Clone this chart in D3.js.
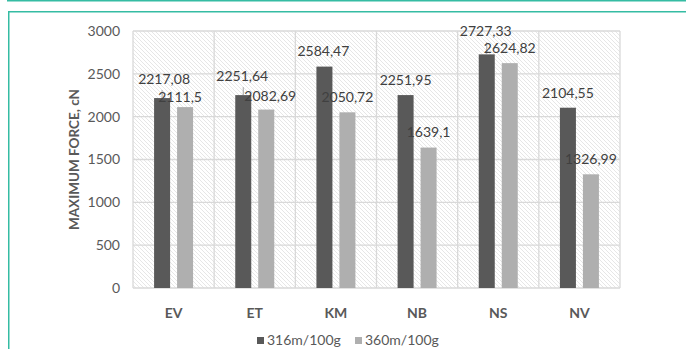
<!DOCTYPE html>
<html>
<head>
<meta charset="utf-8">
<script src="https://cdn.jsdelivr.net/npm/d3@7"></script>
<style>
  html, body { margin: 0; padding: 0; background: #ffffff; }
  svg { display: block; }
</style>
</head>
<body>
<svg id="chart" width="686" height="349"></svg>
<script>
// Fabric samples and measured maximum force for two yarn counts
const categories = ["EV", "ET", "KM", "NB", "NS", "NV"];
const seriesNames = ["316m/100g", "360m/100g"];
const force316 = [2217.08, 2251.64, 2584.47, 2251.95, 2727.33, 2104.55];
const force360 = [2111.5, 2082.69, 2050.72, 1639.1, 2624.82, 1326.99];
const yTicks = [0, 500, 1000, 1500, 2000, 2500, 3000];

const W = 686, H = 349;
const margin = { top: 31, right: 66, bottom: 61, left: 133 };
const colors = ["#595959", "#afafaf"];
const font = "Lato, 'Open Sans', sans-serif";

// Small per-label nudges that keep overlapping value labels apart
const labelShift = {
  "EV-0": [2, -4], "EV-1": [-5, 5],
  "ET-0": [-1, -4], "ET-1": [4, 1.5],
  "KM-0": [-1, 0],
  "NS-0": [-1, -8]
};
const leaderLabels = ["EV-0", "ET-0", "NS-0"];

const svg = d3.select("#chart");

// Outer frame lines
svg.append("line").attr("x1", 7).attr("x2", W).attr("y1", 0.75).attr("y2", 0.75)
  .attr("stroke", "#35bca3").attr("stroke-width", 1.5);
svg.append("path").attr("d", `M${W},11.75 H8.75 V${H}`)
  .attr("fill", "none").attr("stroke", "#35bca3").attr("stroke-width", 1.5);

// Diagonal hatch for the plot background
const defs = svg.append("defs");
const pat = defs.append("pattern").attr("id", "hatch")
  .attr("patternUnits", "userSpaceOnUse").attr("width", 4).attr("height", 4);
pat.append("rect").attr("width", 4).attr("height", 4).attr("fill", "#ffffff");
pat.append("path").attr("d", "M-1,-1 L5,5 M-1,3 L1,5 M3,-1 L5,1")
  .attr("stroke", "#e0e0e0").attr("stroke-width", 0.8);

const x0 = d3.scaleBand().domain(categories)
  .range([margin.left, W - margin.right]).padding(0);
const x1 = d3.scaleBand().domain(d3.range(seriesNames.length))
  .range([0, x0.bandwidth()]).paddingInner(0.304).paddingOuter(0.917);
const y = d3.scaleLinear().domain([0, 3000])
  .range([H - margin.bottom, margin.top]);

const plotW = W - margin.left - margin.right;
const plotH = H - margin.top - margin.bottom;

svg.append("rect").attr("x", margin.left).attr("y", margin.top)
  .attr("width", plotW).attr("height", plotH).attr("fill", "url(#hatch)");

// Grid lines
const grid = svg.append("g").attr("stroke", "#d9d9d9").attr("stroke-width", 1.3);
grid.selectAll("line.h").data(yTicks).join("line").attr("class", "h")
  .attr("x1", margin.left).attr("x2", W - margin.right)
  .attr("y1", d => y(d)).attr("y2", d => y(d));
const bounds = categories.map(c => x0(c)).concat([x0.range()[1]]);
grid.selectAll("line.v").data(bounds).join("line").attr("class", "v")
  .attr("x1", d => d).attr("x2", d => d)
  .attr("y1", margin.top).attr("y2", H - margin.bottom);

// Bars
const rows = categories.map((c, i) => ({ c, vals: [force316[i], force360[i]] }));
const groups = svg.append("g").selectAll("g").data(rows).join("g")
  .attr("transform", d => `translate(${x0(d.c)},0)`);
groups.selectAll("rect").data(d => d.vals.map((v, s) => ({ c: d.c, v, s })))
  .join("rect")
  .attr("x", d => x1(d.s)).attr("width", x1.bandwidth())
  .attr("y", d => y(d.v)).attr("height", d => y(0) - y(d.v))
  .attr("fill", d => colors[d.s]);

// Value labels with optional leader lines
const labels = rows.flatMap(d => d.vals.map((v, s) => {
  const key = `${d.c}-${s}`;
  const sh = labelShift[key] || [0, 0];
  const cx = x0(d.c) + x1(s) + x1.bandwidth() / 2;
  return { key, v, cx, lx: cx + sh[0], ly: y(v) - 15 + sh[1] };
}));
svg.append("g").selectAll("line").data(labels.filter(d => leaderLabels.includes(d.key)))
  .join("line")
  .attr("x1", d => d.cx).attr("x2", d => d.cx)
  .attr("y1", d => d.ly + 11).attr("y2", d => y(d.v))
  .attr("stroke", "#a6a6a6").attr("stroke-width", 1);
svg.append("g").selectAll("text").data(labels).join("text")
  .attr("x", d => d.lx).attr("y", d => d.ly).attr("dy", "0.35em")
  .attr("text-anchor", "middle")
  .attr("font-family", font).attr("font-size", 14).attr("fill", "#404040")
  .text(d => String(d.v).replace(".", ","));

// Y axis
const yAxis = svg.append("g").attr("transform", `translate(${margin.left},0)`)
  .call(d3.axisLeft(y).tickValues(yTicks).tickFormat(d3.format("d"))
    .tickSize(0).tickPadding(13));
yAxis.select(".domain").remove();
yAxis.selectAll("text").attr("font-family", font).attr("font-size", 14)
  .attr("fill", "#595959");

// X axis
const xAxis = svg.append("g").attr("transform", `translate(0,${H - margin.bottom})`)
  .call(d3.axisBottom(x0).tickSize(0).tickPadding(20));
xAxis.select(".domain").remove();
xAxis.selectAll("text").attr("font-family", font).attr("font-size", 14)
  .attr("font-weight", "bold").attr("fill", "#595959");

// Axis title
svg.append("text")
  .attr("transform", `translate(79,${margin.top + plotH / 2}) rotate(-90)`)
  .attr("text-anchor", "middle")
  .attr("font-family", font).attr("font-size", 13.5).attr("font-weight", "bold")
  .attr("fill", "#595959")
  .text("MAXIMUM FORCE, cN");

// Legend
const legendX = [257, 355];
const legend = svg.append("g").selectAll("g").data(seriesNames).join("g")
  .attr("transform", (d, i) => `translate(${legendX[i]},337)`);
legend.append("rect").attr("width", 7).attr("height", 7).attr("fill", (d, i) => colors[i]);
legend.append("text").attr("x", 10).attr("y", 3.5).attr("dy", "0.35em")
  .attr("font-family", font).attr("font-size", 14).attr("fill", "#595959")
  .text(d => d);
</script>
</body>
</html>
